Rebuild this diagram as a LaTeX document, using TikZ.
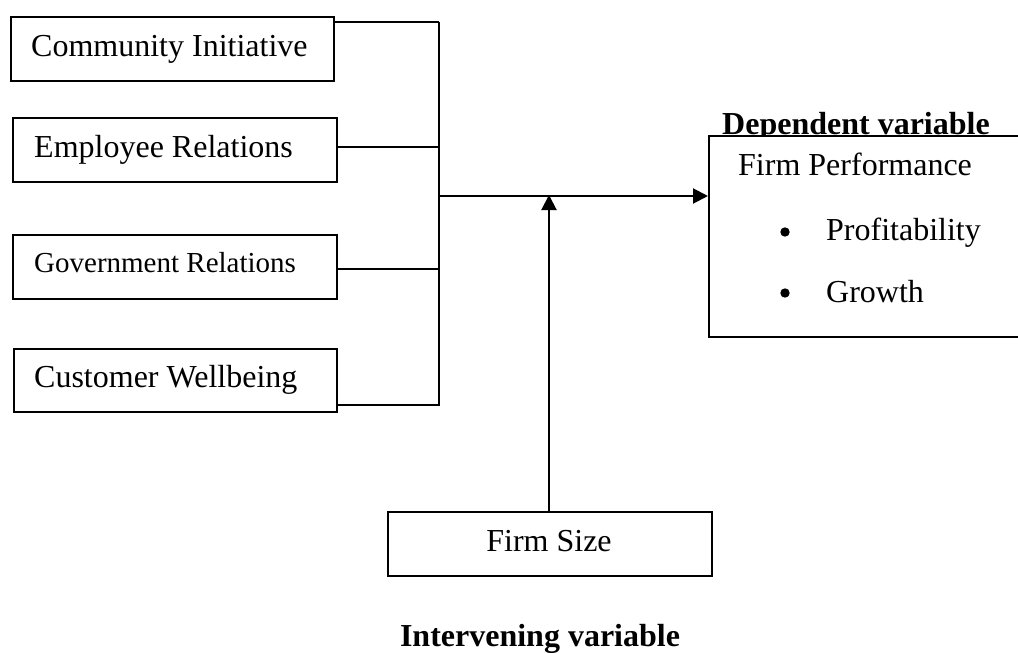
\documentclass[tikz,border=0pt]{standalone}
\usepackage{fontspec}
\setmainfont{Liberation Serif}
\usetikzlibrary{arrows.meta}
\begin{document}
\begin{tikzpicture}[x=1pt,y=-1pt,
  box/.style={draw,line width=1.8pt,fill=white,inner sep=0pt,anchor=north west},
  txt/.style={anchor=base west,inner sep=0pt,font=\fontsize{32}{38}\selectfont},
  conn/.style={line width=1.6pt},
  arr/.style={line width=2pt,-{Triangle[length=15pt,width=15pt]}}]
\useasboundingbox (0,0) rectangle (1018,653);
\clip (0,0) rectangle (1018,653);
% left boxes
\node[box,minimum width=323pt,minimum height=64pt] (b1) at (10,16) {};
\node[box,minimum width=324pt,minimum height=64pt] (b2) at (12,117) {};
\node[box,minimum width=324pt,minimum height=64pt] (b3) at (12,234) {};
\node[box,minimum width=323pt,minimum height=63pt] (b4) at (13,348) {};
\node[txt] (t1) at (31,56) {Community Initiative};
\node[txt] (t2) at (34,157) {Employee Relations};
\node[txt,font=\fontsize{29}{35}\selectfont] (t3) at (34,272) {Government Relations};
\node[txt] (t4) at (34,387) {Customer Wellbeing};
% bracket
\coordinate (c1) at (439,22);
\coordinate (c2) at (439,147);
\coordinate (c3) at (439,269);
\coordinate (c4) at (439,405);
\coordinate (c0) at (439,196);
\draw[conn] (b1.east |- c1) -- (c1);
\draw[conn] (b2.east |- c2) -- (c2);
\draw[conn] (b3.east |- c3) -- (c3);
\draw[conn] (b4.east |- c4) -- (c4) -- (c1);
% dependent
\node[txt,font=\bfseries\fontsize{32}{38}\selectfont] (dv) at (722,134) {Dependent variable};
\node[box,minimum width=340pt,minimum height=201pt] (fp) at (708,135) {};
\node[txt] (fpt) at (738,175) {Firm Performance};
\fill (785,232) circle (4.7pt) coordinate (d1);
\fill (785,293) circle (4.7pt) coordinate (d2);
\node[txt] (p1) at (826,240) {Profitability};
\node[txt] (p2) at (826,302) {Growth};
\draw[arr] (c0) -- (fp.west |- c0);
% firm size
\node[box,minimum width=324pt,minimum height=64pt] (fs) at (387,511) {};
\node[anchor=base,inner sep=0pt,font=\fontsize{32}{38}\selectfont] (fst) at (549,551) {Firm Size};
\coordinate (m) at (549,196);
\draw[arr] (fs.north -| m) -- ([yshift=1pt]m);
\node[anchor=base,inner sep=0pt,font=\bfseries\fontsize{32}{38}\selectfont] (iv) at (540,646) {Intervening variable};
\end{tikzpicture}
\end{document}
